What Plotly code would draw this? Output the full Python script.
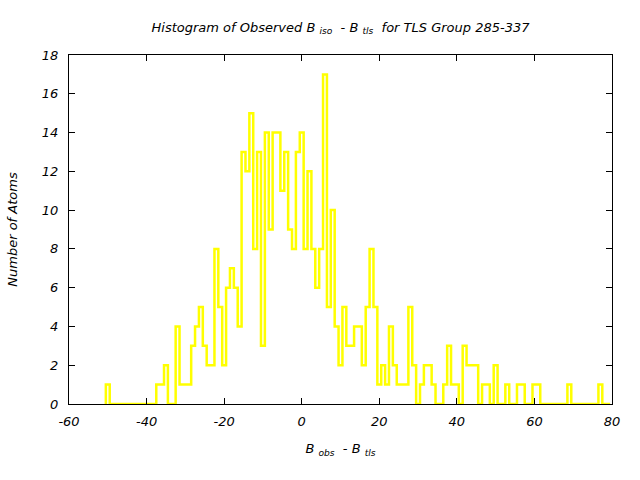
import plotly.graph_objects as go

# Histogram data (bins of width 1, centred on integers)
bin_start = -50
bin_width = 1
counts = [
    1,                                  # -50
    0, 0, 0, 0, 0, 0, 0, 0, 0, 0, 0, 0, # -49 .. -38
    1, 1,                               # -37, -36
    2,                                  # -35
    0, 0,                               # -34, -33
    4,                                  # -32
    1, 1, 1,                            # -31 .. -29
    3, 4, 5, 3,                         # -28 .. -25
    2, 2,                               # -24, -23
    8, 5, 2, 6, 7, 6, 4,                # -22 .. -16
    13, 12, 15, 8, 13, 3, 14, 9,        # -15 .. -8
    14, 14, 11, 13, 9, 8, 13,           # -7 .. -1
    14, 8, 12, 8, 6, 8, 17, 5, 10,      # 0 .. 8
    4, 2, 5, 3, 3, 4, 4, 2, 5, 8, 5,    # 9 .. 19
    1, 2, 1, 4, 2, 1, 1, 1, 5, 2,       # 20 .. 29
    0, 1, 2, 2, 1, 0, 0, 1, 3, 1,       # 30 .. 39
    1, 0, 3, 2, 2, 2, 0, 1, 1, 0,       # 40 .. 49
    2, 0, 0, 1, 0, 0, 1, 1, 0, 0,       # 50 .. 59
    1, 1, 0, 0, 0, 0, 0, 0, 0, 1,       # 60 .. 69
    0, 0, 0, 0, 0, 0, 0, 1, 0, 0,       # 70 .. 79
]

x_ticks = [-60, -40, -20, 0, 20, 40, 60, 80]
y_ticks = [0, 2, 4, 6, 8, 10, 12, 14, 16, 18]

edges = [bin_start - bin_width / 2 + i * bin_width for i in range(len(counts) + 1)]
xs = [edges[0]] + edges[:-1] + [edges[-1]]
ys = [0] + counts + [counts[-1]]

fig = go.Figure()
fig.add_trace(go.Scatter(
    x=xs, y=ys, mode="lines",
    line=dict(color="#ffff00", width=2.5, shape="hv"),
    showlegend=False, hoverinfo="skip",
))

font_family = "DejaVu Sans"
fsize = 13
axis_common = dict(
    showline=True, linecolor="black", linewidth=1, mirror="allticks",
    ticks="inside", ticklen=6, tickcolor="black", tickwidth=1,
    showgrid=False, zeroline=False,
    tickfont=dict(family=font_family, size=fsize, color="black", style="italic"),
)

fig.update_layout(
    width=640, height=480,
    paper_bgcolor="white", plot_bgcolor="white",
    margin=dict(l=67, r=28, t=55, b=76),
    title=dict(
        text="Histogram of Observed B <sub>iso</sub>  - B <sub>tls</sub>  for TLS Group 285-337",
        x=0.5, xref="paper", xanchor="center",
        y=1 - 27 / 480, yref="container", yanchor="middle",
        font=dict(family=font_family, size=fsize, color="black", style="italic"),
    ),
    xaxis=dict(
        range=[-60, 80], tickvals=x_ticks, ticktext=[str(v) for v in x_ticks],
        ticklabelstandoff=5,
        title=dict(text="B <sub>obs</sub>  - B <sub>tls</sub>", standoff=16,
                   font=dict(family=font_family, size=fsize, color="black", style="italic")),
        **axis_common,
    ),
    yaxis=dict(
        range=[0, 18], tickvals=y_ticks, ticktext=[str(v) for v in y_ticks],
        ticklabelstandoff=7,
        title=dict(text="Number of Atoms", standoff=21,
                   font=dict(family=font_family, size=fsize, color="black", style="italic")),
        **axis_common,
    ),
)

fig.write_html("out.html")
